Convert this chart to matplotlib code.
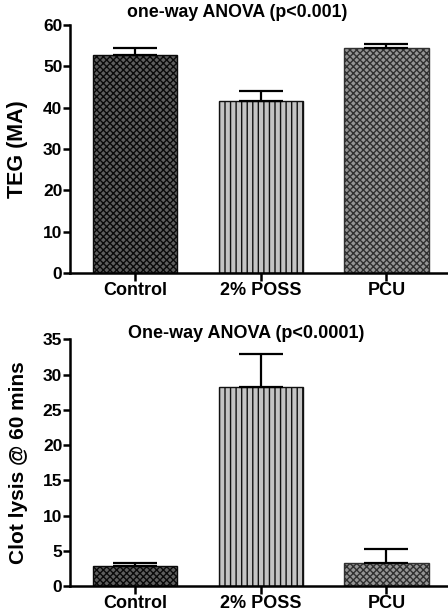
import matplotlib
matplotlib.use("Agg")
import matplotlib.pyplot as plt
import numpy as np

categories = ['Control', '2% POSS', 'PCU']
teg_mean = [52.8, 41.5, 54.4]
teg_err = [1.7, 2.6, 1.0]
lysis_mean = [2.9, 28.3, 3.2]
lysis_err = [0.3, 4.6, 2.0]

teg_title = 'one-way ANOVA (p<0.001)'
lysis_title = 'One-way ANOVA (p<0.0001)'
teg_ylabel = 'TEG (MA)'
lysis_ylabel = 'Clot lysis @ 60 mins'
teg_ticks = [0, 10, 20, 30, 40, 50, 60]
lysis_ticks = [0, 5, 10, 15, 20, 25, 30, 35]

plt.rcParams['font.family'] = ['Liberation Sans', 'DejaVu Sans']
plt.rcParams['hatch.linewidth'] = 1.0

faces = ['#5e5e5e', '#c4c4c4', '#959595']
hatches = ['xxxxx', '|||', 'xxxxx']
hatch_cols = ['#0a0a0a', '#111111', '#303030']

fig = plt.figure(figsize=(4.48, 6.12), dpi=100)
ax1 = fig.add_axes([70/448, 1-273/612, 1-70/448, 248/612])
ax2 = fig.add_axes([70/448, 1-586/612, 1-70/448, 246.7/612])

def draw(ax, means, errs, ticks, title, ylabel, tx, ty, ylsize, tsize):
    x = np.arange(len(categories))
    for i in range(len(categories)):
        ax.bar(x[i], means[i], width=0.67, color=faces[i], edgecolor=hatch_cols[i],
               hatch=hatches[i], linewidth=1.0, zorder=2)
    ax.errorbar(x, means, yerr=[np.zeros(len(errs)), errs], fmt='none', ecolor='black',
                elinewidth=1.6, capsize=16, capthick=1.6, zorder=3)
    ax.set_xlim(-0.52, 2.49)
    ax.set_ylim(0, ticks[-1])
    ax.set_yticks(ticks)
    ax.set_xticks(x)
    ax.set_xticklabels(categories, fontsize=13, fontweight='bold')
    for lab in ax.get_yticklabels():
        lab.set_fontsize(12.5)
        lab.set_fontweight('bold')
    for s in ['top', 'right']:
        ax.spines[s].set_visible(False)
    for s in ['left', 'bottom']:
        ax.spines[s].set_linewidth(1.8)
    ax.tick_params(axis='both', width=1.8, length=5, pad=0.5, direction='out')
    ax.tick_params(axis='x', length=6, pad=0.5)
    ax.set_ylabel(ylabel, fontsize=ylsize, fontweight='bold')
    ax.yaxis.set_label_coords(-0.11, 0.5)
    ax.text(tx, ty, title, transform=ax.transAxes, ha='center', va='center',
            fontsize=tsize, fontweight='bold')
    ax.patch.set_alpha(0)

draw(ax1, teg_mean, teg_err, teg_ticks, teg_title, teg_ylabel, 0.443, 1.05, 15.5, 12.8)
draw(ax2, lysis_mean, lysis_err, lysis_ticks, lysis_title, lysis_ylabel, 0.466, 1.025, 15, 13)

fig.savefig('out.png', dpi=100)
